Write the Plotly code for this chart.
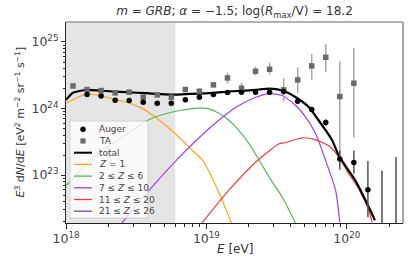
import numpy as np
import plotly.graph_objects as go

# ---------------- data (log10 values) ----------------
auger_logE = [18.15, 18.25, 18.35, 18.45, 18.55, 18.65, 18.75, 18.85, 18.95, 19.05,
              19.15, 19.25, 19.35, 19.45, 19.55, 19.65, 19.75, 19.85, 19.95, 20.05, 20.15]
auger_logJ = [24.21, 24.19, 24.125, 24.12, 24.095, 24.08, 24.08, 24.13, 24.17, 24.21,
              24.24, 24.245, 24.245, 24.245, 24.255, 24.11, 23.985, 23.79, 23.24, 23.19, 22.78]
auger_err_up = [0.01, 0.01, 0.01, 0.01, 0.01, 0.01, 0.01, 0.01, 0.01, 0.01,
                0.01, 0.01, 0.01, 0.01, 0.015, 0.02, 0.03, 0.05, 0.13, 0.18, 0.43]
auger_err_dn = [0.01, 0.01, 0.01, 0.01, 0.01, 0.01, 0.01, 0.01, 0.01, 0.01,
                0.01, 0.01, 0.01, 0.01, 0.015, 0.02, 0.03, 0.05, 0.16, 0.17, 0.415]
auger_ul_logE = [20.25, 20.35]
auger_ul_logJ = [23.07, 23.27]

ta_logE = [18.05, 18.15, 18.25, 18.35, 18.45, 18.55, 18.65, 18.75, 18.85, 18.95, 19.05,
           19.15, 19.25, 19.35, 19.45, 19.55, 19.65, 19.75, 19.85, 19.95, 20.05]
ta_logJ = [24.34, 24.285, 24.27, 24.235, 24.245, 24.17, 24.205, 24.17, 24.285, 24.26, 24.355,
           24.46, 24.305, 24.56, 24.59, 24.28, 24.43, 24.64, 24.77, 24.18, 24.38]
ta_err_up = [0.02, 0.02, 0.02, 0.02, 0.02, 0.02, 0.02, 0.02, 0.02, 0.02, 0.03,
             0.08, 0.085, 0.07, 0.10, 0.176, 0.19, 0.18, 0.20, 0.53, 0.53]
ta_err_dn = [0.02, 0.02, 0.02, 0.02, 0.02, 0.02, 0.02, 0.02, 0.02, 0.02, 0.03,
             0.084, 0.065, 0.06, 0.08, 0.17, 0.20, 0.21, 0.224, 1.04, 0.82]

total_logE = [18.0, 18.05, 18.147, 18.24, 18.333, 18.43, 18.57, 18.76, 18.88, 19.045, 19.16,
              19.28, 19.376, 19.447, 19.54, 19.636, 19.73, 19.80, 19.85, 19.896, 19.943,
              20.06, 20.156, 20.20]
total_logJ = [24.13, 24.236, 24.28, 24.27, 24.256, 24.245, 24.23, 24.21, 24.22, 24.236, 24.256,
              24.27, 24.286, 24.30, 24.27, 24.17, 24.02, 23.82, 23.67, 23.52, 23.29,
              22.92, 22.52, 22.32]

z1_logE = [18.0, 18.147, 18.24, 18.36, 18.454, 18.55, 18.643, 18.738, 18.83, 18.90, 18.974, 19.08, 19.18]
z1_logJ = [24.08, 24.22, 24.195, 24.13, 24.08, 23.995, 23.86, 23.695, 23.52, 23.37, 23.22, 22.78, 22.27]

z2_6_logE = [18.0, 18.17, 18.31, 18.454, 18.55, 18.667, 18.81, 18.95, 19.02, 19.116, 19.21,
             19.305, 19.376, 19.447, 19.54, 19.636]
z2_6_logJ = [22.84, 23.22, 23.44, 23.64, 23.79, 23.895, 23.97, 24.005, 23.995, 23.895, 23.72,
             23.47, 23.22, 22.97, 22.67, 22.27]

z7_10_logE = [18.395, 18.596, 18.785, 18.927, 19.069, 19.21, 19.352, 19.447, 19.54, 19.636,
              19.707, 19.778, 19.849, 19.92, 19.95]
z7_10_logJ = [22.27, 22.78, 23.22, 23.52, 23.79, 24.02, 24.17, 24.225, 24.195, 24.045,
              23.87, 23.62, 23.22, 22.77, 22.29]

z11_20_logE = [18.965, 19.163, 19.364, 19.518, 19.565, 19.683, 19.778, 19.872, 19.943,
               20.014, 20.085, 20.156, 20.18]
z11_20_logJ = [22.27, 22.78, 23.22, 23.47, 23.49, 23.56, 23.53, 23.44, 23.27,
               23.02, 22.79, 22.47, 22.29]

shade_end_E = 6e18
x_range_log = [18.0, 20.4]
y_range_log = [22.28, 25.30]

title_text = ("<i>m</i> = <i>GRB</i>; <i>α</i> = −1.5; "
              "log(<i>R</i><sub>max</sub>/V) = 18.2")

# ---------------- styling ----------------
FONT = "DejaVu Sans"
C_Z1 = "#ffa31a"
C_Z2 = "#55b355"
C_Z7 = "#a93be6"
C_Z11 = "#f23a3a"
C_Z21 = "#6a45c2"

W, H = 416, 264
L, R, T, B = 66, 13, 22, 41
PW, PH = W - L - R, H - T - B


def px(x):
    return (x - L) / PW


def py(y):
    return (H - B - y) / PH


def lin(v):
    return [10 ** a for a in v]


fig = go.Figure()


def add_line(logE, logJ, color, width, name):
    fig.add_trace(go.Scatter(x=lin(logE), y=lin(logJ), mode="lines", name=name,
                             line=dict(color=color, width=width, shape="spline", smoothing=0.6),
                             showlegend=False, hoverinfo="skip"))


add_line(z1_logE, z1_logJ, C_Z1, 1.2, "Z = 1")
add_line(z2_6_logE, z2_6_logJ, C_Z2, 1.2, "2 ≤ Z ≤ 6")
add_line(z7_10_logE, z7_10_logJ, C_Z7, 1.2, "7 ≤ Z ≤ 10")
add_line(z11_20_logE, z11_20_logJ, C_Z11, 1.2, "11 ≤ Z ≤ 20")
add_line(total_logE, total_logJ, "black", 2.2, "total")

# TA
ta_y = np.array(lin(ta_logJ))
fig.add_trace(go.Scatter(
    x=lin(ta_logE), y=ta_y, mode="markers", name="TA", showlegend=False,
    marker=dict(symbol="square", size=5.5, color="#6a6a6a"),
    error_y=dict(type="data", symmetric=False,
                 array=ta_y * (10 ** np.array(ta_err_up) - 1),
                 arrayminus=ta_y * (1 - 10 ** (-np.array(ta_err_dn))),
                 color="#a8a8a8", thickness=1.5, width=0)))

# Auger
au_y = np.array(lin(auger_logJ))
fig.add_trace(go.Scatter(
    x=lin(auger_logE), y=au_y, mode="markers", name="Auger", showlegend=False,
    marker=dict(symbol="circle", size=5.5, color="black"),
    error_y=dict(type="data", symmetric=False,
                 array=au_y * (10 ** np.array(auger_err_up) - 1),
                 arrayminus=au_y * (1 - 10 ** (-np.array(auger_err_dn))),
                 color="#555555", thickness=1.5, width=0)))

# Auger upper limits (bars down from the limit)
ul_y = np.array(lin(auger_ul_logJ))
fig.add_trace(go.Scatter(
    x=lin(auger_ul_logE), y=ul_y, mode="markers", name="Auger UL", showlegend=False,
    marker=dict(size=0.1, color="rgba(0,0,0,0)"),
    error_y=dict(type="data", symmetric=False, array=[0, 0],
                 arrayminus=ul_y * 0.9999, color="#333333", thickness=1.3, width=0)))

shapes = []
# shaded region
shade_x1 = (np.log10(shade_end_E) - x_range_log[0]) / (x_range_log[1] - x_range_log[0])
shapes.append(dict(type="rect", xref="paper", yref="paper", x0=0, x1=shade_x1, y0=0, y1=1,
                   fillcolor="#e5e5e5", line=dict(width=0), layer="below"))
# top / right spines
shapes.append(dict(type="line", xref="paper", yref="paper", x0=0, x1=1, y0=1, y1=1,
                   line=dict(color="#9a9a9a", width=1.5)))
shapes.append(dict(type="line", xref="paper", yref="paper", x0=1, x1=1, y0=0, y1=1,
                   line=dict(color="#9a9a9a", width=1.8)))

# ---------------- legend (manual, matplotlib-like) ----------------
annotations = []
lx0, lx1, ly0, ly1 = 70, 148, 121, 218
shapes.append(dict(type="rect", xref="paper", yref="paper",
                   x0=px(lx0), x1=px(lx1), y0=py(ly1), y1=py(ly0),
                   fillcolor="rgba(255,255,255,0.8)", line=dict(color="#d0d0d0", width=1)))
legend_items = [
    ("Auger", "circle", "black"),
    ("TA", "square", "#6a6a6a"),
    ("total", "line2", "black"),
    ("<i>Z</i> = 1", "line", C_Z1),
    ("2 ≤ <i>Z</i> ≤ 6", "line", C_Z2),
    ("7 ≤ <i>Z</i> ≤ 10", "line", C_Z7),
    ("11 ≤ <i>Z</i> ≤ 20", "line", C_Z11),
    ("21 ≤ <i>Z</i> ≤ 26", "line", C_Z21),
]
row0, drow = 129.3, 11.7
hx0, hx1, tx = 74, 92, 96.5
for i, (lab, kind, col) in enumerate(legend_items):
    yc = row0 + i * drow
    if kind in ("line", "line2"):
        shapes.append(dict(type="line", xref="paper", yref="paper",
                           x0=px(hx0), x1=px(hx1), y0=py(yc), y1=py(yc),
                           line=dict(color=col, width=2.0 if kind == "line2" else 1.3)))
    elif kind == "circle":
        r = 2.7
        xc = (hx0 + hx1) / 2
        shapes.append(dict(type="circle", xref="paper", yref="paper",
                           x0=px(xc - r), x1=px(xc + r), y0=py(yc + r), y1=py(yc - r),
                           fillcolor=col, line=dict(width=0)))
    else:
        r = 2.6
        xc = (hx0 + hx1) / 2
        shapes.append(dict(type="rect", xref="paper", yref="paper",
                           x0=px(xc - r), x1=px(xc + r), y0=py(yc + r), y1=py(yc - r),
                           fillcolor=col, line=dict(width=0)))
    annotations.append(dict(text=lab, xref="paper", yref="paper", x=px(tx), y=py(yc),
                            xanchor="left", yanchor="middle", showarrow=False,
                            font=dict(family=FONT, size=9, color="#444444")))

# axis titles
annotations.append(dict(text="<i>E</i> [eV]", xref="paper", yref="paper",
                        x=0.5, y=py(249), xanchor="center", yanchor="middle", showarrow=False,
                        font=dict(family=FONT, size=12, color="#333333")))
annotations.append(dict(text=("<i>E</i><sup>3</sup> d<i>N</i>/d<i>E</i> [eV<sup>2</sup> m<sup>−2</sup> "
                              "sr<sup>−1</sup> s<sup>−1</sup>]"),
                        xref="paper", yref="paper", x=px(20), y=0.5, textangle=-90,
                        xanchor="center", yanchor="middle", showarrow=False,
                        font=dict(family=FONT, size=11, color="#333333")))

axis_common = dict(type="log", showgrid=False, zeroline=False, showline=True, automargin=False,
                   linecolor="#222222", linewidth=1, ticks="outside", ticklen=4.5,
                   tickwidth=1, tickcolor="#222222", dtick=1, exponentformat="power",
                   showexponent="all",
                   tickfont=dict(family=FONT, size=10, color="#444444"),
                   minor=dict(ticks="outside", ticklen=2.5, tickwidth=0.8,
                              tickcolor="#222222", dtick="D1", showgrid=False))

fig.update_layout(
    template="none",
    width=W, height=H,
    margin=dict(l=L, r=R, t=T, b=B, pad=0, autoexpand=False),
    paper_bgcolor="white", plot_bgcolor="white",
    showlegend=False,
    title=dict(text=title_text, x=0.5, xref="paper",
               y=1 - 11 / H, yref="container", xanchor="center", yanchor="middle",
               font=dict(family=FONT, size=12, color="#333333")),
    xaxis=dict(range=x_range_log, **axis_common),
    yaxis=dict(range=y_range_log, **axis_common),
    shapes=shapes,
    annotations=annotations,
)

fig.write_html("out.html", config={"displayModeBar": False},
               post_script="document.body.style.margin='0';document.body.style.padding='0';")
